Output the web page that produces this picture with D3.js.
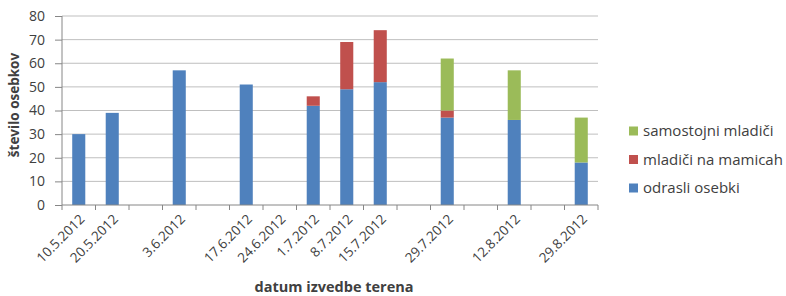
<!DOCTYPE html>
<html>
<head>
<meta charset="utf-8">
<script src="https://cdn.jsdelivr.net/npm/d3@7"></script>
<style>
  body { margin: 0; background: #fff; }
  text { font-family: "Open Sans", sans-serif; fill: #404040; }
</style>
</head>
<body>
<div id="chart"></div>
<script>
// category labels (empty strings are unlabeled slots on the axis)
var dates = ["10.5.2012", "20.5.2012", "", "3.6.2012", "", "17.6.2012", "24.6.2012", "1.7.2012",
             "8.7.2012", "15.7.2012", "", "29.7.2012", "", "12.8.2012", "", "29.8.2012"];
var odrasli    = [30, 39, 0, 57, 0, 51, 0, 42, 49, 52, 0, 37, 0, 36, 0, 18];
var mamicah    = [0, 0, 0, 0, 0, 0, 0, 4, 20, 22, 0, 3, 0, 0, 0, 0];
var samostojni = [0, 0, 0, 0, 0, 0, 0, 0, 0, 0, 0, 22, 0, 21, 0, 19];
var yTicks = [0, 10, 20, 30, 40, 50, 60, 70, 80];

var keys = ["odrasli", "mamicah", "samostojni"];
var names = { odrasli: "odrasli osebki", mamicah: "mladiči na mamicah", samostojni: "samostojni mladiči" };
var colors = { odrasli: "#4F81BD", mamicah: "#C0504D", samostojni: "#9BBB59" };

var w = 786, h = 296;
var plotLeft = 62, plotRight = 598, plotTop = 16, plotBottom = 205;

var rows = dates.map(function(d, i) {
  return { i: i, odrasli: odrasli[i], mamicah: mamicah[i], samostojni: samostojni[i] };
});

var series = d3.stack().keys(keys)(rows);

var xScale = d3.scaleBand()
  .domain(d3.range(dates.length))
  .range([plotLeft, plotRight]);

var yScale = d3.scaleLinear()
  .domain([0, 80])
  .range([plotBottom, plotTop]);

var svg = d3.select("#chart").append("svg")
  .attr("width", w)
  .attr("height", h);

// gridlines
svg.append("g").selectAll("line")
  .data(yTicks.slice(1))
  .enter().append("line")
  .attr("x1", plotLeft).attr("x2", plotRight)
  .attr("y1", function(d) { return yScale(d); })
  .attr("y2", function(d) { return yScale(d); })
  .attr("stroke", "#bfbfbf")
  .attr("stroke-width", 1);

// bars
var barW = xScale.bandwidth() * 0.39;
var groups = svg.selectAll("g.series")
  .data(series)
  .enter().append("g")
  .attr("class", "series")
  .style("fill", function(d) { return colors[d.key]; });

groups.selectAll("rect")
  .data(function(d) { return d.filter(function(p) { return p[1] > p[0]; }); })
  .enter().append("rect")
  .attr("x", function(d) { return xScale(d.data.i) + (xScale.bandwidth() - barW) / 2; })
  .attr("y", function(d) { return yScale(d[1]); })
  .attr("height", function(d) { return yScale(d[0]) - yScale(d[1]); })
  .attr("width", barW);

// y axis
var yAxis = d3.axisLeft(yScale).tickValues(yTicks).tickSize(7).tickPadding(10);
var gy = svg.append("g")
  .attr("transform", "translate(" + plotLeft + ",0)")
  .call(yAxis);
gy.select(".domain").attr("stroke", "#868686").attr("d", "M0," + plotTop + "V" + plotBottom);
gy.selectAll(".tick line").attr("stroke", "#868686");
gy.selectAll(".tick text").style("font-size", "14px").attr("fill", "#404040");

// x axis: labels at category centers, ticks at boundaries
var xAxis = d3.axisBottom(xScale).tickSize(0).tickPadding(8)
  .tickFormat(function(i) { return dates[i]; });
var gx = svg.append("g")
  .attr("transform", "translate(0," + plotBottom + ")")
  .call(xAxis);
gx.select(".domain").attr("stroke", "#868686").attr("d", "M" + plotLeft + ",0H" + plotRight);
gx.selectAll(".tick text")
  .style("font-size", "13.5px")
  .attr("fill", "#404040")
  .style("text-anchor", "end")
  .attr("dx", "-6px")
  .attr("dy", "0.55em")
  .attr("transform", "rotate(-45)");

var bounds = d3.range(dates.length + 1).map(function(i) {
  return i < dates.length ? xScale(i) : xScale(dates.length - 1) + xScale.step();
});
gx.selectAll("line.bound")
  .data(bounds)
  .enter().append("line")
  .attr("class", "bound")
  .attr("x1", function(d) { return d; }).attr("x2", function(d) { return d; })
  .attr("y1", 0).attr("y2", 5)
  .attr("stroke", "#868686");

// axis titles
svg.append("text")
  .attr("transform", "translate(19,105) rotate(-90)")
  .style("text-anchor", "middle")
  .style("font-size", "13.5px")
  .style("font-weight", "bold")
  .text("število osebkov");

svg.append("text")
  .attr("x", 334)
  .attr("y", 292)
  .style("text-anchor", "middle")
  .style("font-size", "14.5px")
  .style("font-weight", "bold")
  .text("datum izvedbe terena");

// legend
var legendKeys = keys.slice().reverse();
var legend = svg.selectAll(".legend")
  .data(legendKeys)
  .enter().append("g")
  .attr("class", "legend")
  .attr("transform", function(d, i) { return "translate(629," + (131 + i * 28.5) + ")"; });

legend.append("rect")
  .attr("x", 0)
  .attr("y", -4.5)
  .attr("width", 9)
  .attr("height", 9)
  .style("fill", function(d) { return colors[d]; });

legend.append("text")
  .attr("x", 14)
  .attr("y", 0)
  .attr("dy", ".35em")
  .style("font-size", "15px")
  .text(function(d) { return names[d]; });
</script>
</body>
</html>
